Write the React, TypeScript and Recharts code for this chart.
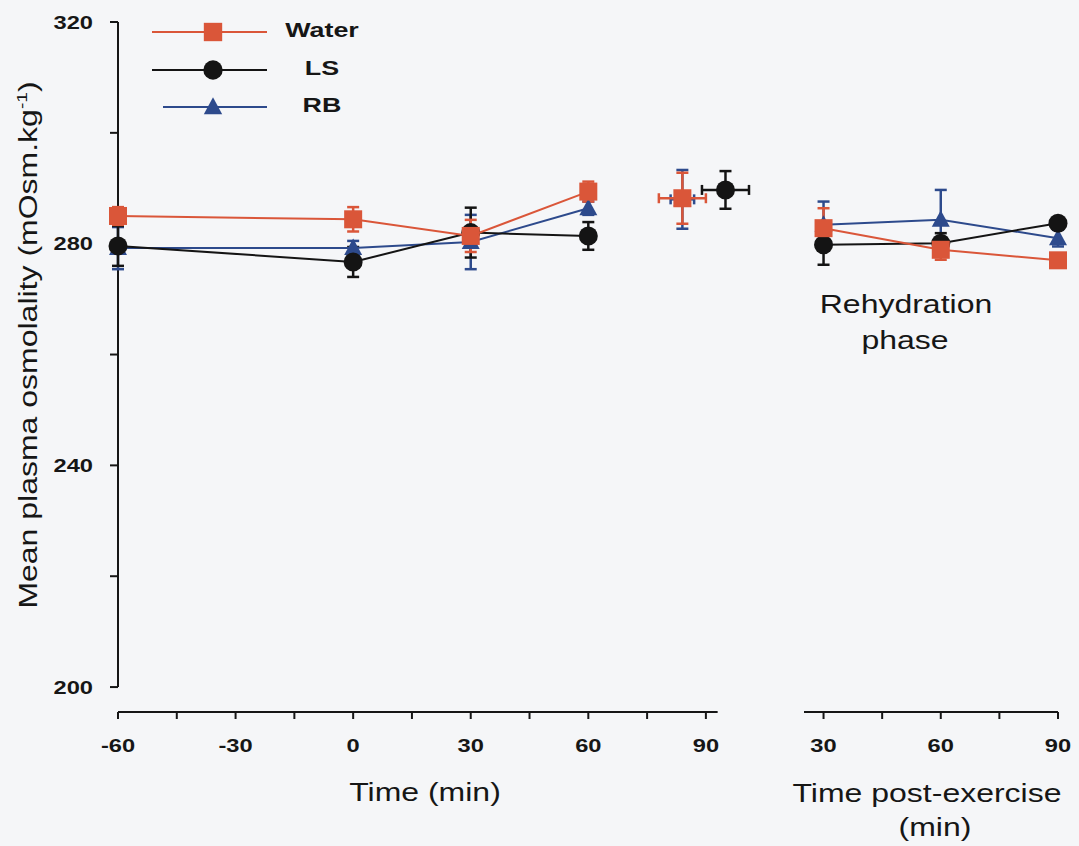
import React from 'react';
import { ComposedChart, Scatter, XAxis, YAxis, ErrorBar, ReferenceLine, Legend } from 'recharts';

// ---------- data ----------
const SERIES = ['Water', 'LS', 'RB'];

const PRE_TIMES = [-60, 0, 30, 60];
const WATER_PRE = [285.0, 284.4, 281.4, 289.4];
const WATER_PRE_SD = [1.6, 2.2, 2.9, 1.8];
const LS_PRE = [279.6, 276.7, 282.0, 281.4];
const LS_PRE_SD = [3.6, 2.7, 4.5, 2.5];
const RB_PRE = [279.2, 279.2, 280.3, 286.4];
const RB_PRE_SD = [3.8, 1.3, 4.9, 1.2];

// end-of-exercise point (order: Water, LS, RB)
const END_TIME = [84, 95, 84];
const END_TIME_SD = [6, 6, 3];
const END_VALUE = [288.2, 289.7, 288.0];
const END_VALUE_SD = [4.6, 3.4, 5.3];

const POST_TIMES = [30, 60, 90];
const WATER_POST = [282.8, 278.9, 277.0];
const WATER_POST_SD = [3.6, 1.8, 0.8];
const LS_POST = [279.8, 280.1, 283.7];
const LS_POST_SD = [3.6, 1.8, 1.0];
const RB_POST = [283.4, 284.3, 281.0];
const RB_POST_SD = [4.2, 5.4, 1.5];

const PRE_TICKS = [-60, -45, -30, -15, 0, 15, 30, 45, 60, 75, 90];
const POST_TICKS = [30, 45, 60, 75, 90];
const Y_TICKS = [200, 220, 240, 260, 280, 300, 320];

const PRE_VALUES = [WATER_PRE, LS_PRE, RB_PRE];
const PRE_SDS = [WATER_PRE_SD, LS_PRE_SD, RB_PRE_SD];
const POST_VALUES = [WATER_POST, LS_POST, RB_POST];
const POST_SDS = [WATER_POST_SD, LS_POST_SD, RB_POST_SD];

// ---------- styles ----------
const COLORS = ['#da5639', '#141414', '#2d4a8c'];
const SHAPES = ['square', 'circle', 'triangle'];
const DRAW_ORDER = [2, 1, 0];
const FONT = "'Liberation Sans', Arial, Helvetica, sans-serif";
const SX = 1.28;
const INK = '#161616';
const Y_DOMAIN = [195.5, 320];

const WideText = ({ x, y, size, bold = false, anchor = 'middle', rotate = 0, children }: any) => (
  <text
    transform={`translate(${x},${y}) rotate(${rotate}) scale(${SX},1)`}
    x={0}
    y={0}
    textAnchor={anchor}
    fontFamily={FONT}
    fontSize={size}
    fontWeight={bold ? 'bold' : 'normal'}
    fill={INK}
  >
    {children}
  </text>
);

const Marker = ({ cx, cy, kind, color, s = 1 }: any) => {
  if (cx == null || cy == null) return <g />;
  if (kind === 'square') {
    const h = 9 * s;
    return <rect x={cx - h} y={cy - h} width={2 * h} height={2 * h} fill={color} />;
  }
  if (kind === 'circle') {
    return <circle cx={cx} cy={cy} r={9.5 * s} fill={color} />;
  }
  const w = 9 * s;
  return (
    <polygon
      points={`${cx},${cy - 9.5 * s} ${cx - w},${cy + 7 * s} ${cx + w},${cy + 7 * s}`}
      fill={color}
    />
  );
};

const XTick = (props: any) => {
  const { x, y, payload } = props;
  const v = payload.value;
  if (v % 30 !== 0) return <g />;
  return (
    <WideText x={x} y={y + 30.5} size={18.5} bold>
      {String(v)}
    </WideText>
  );
};

const YTick = (props: any) => {
  const { x, y, payload } = props;
  const v = payload.value;
  if (v % 40 !== 0) return <g />;
  return (
    <WideText x={x} y={y + 6.5} size={18.5} bold anchor="end">
      {String(v)}
    </WideText>
  );
};

const YTitle = () => (
  <text
    transform={`translate(37,345) rotate(-90) scale(${SX},1)`}
    textAnchor="middle"
    fontFamily={FONT}
    fontSize={25}
    fill={INK}
  >
    Mean plasma osmolality (mOsm.kg
    <tspan fontSize={15} dy={-10}>-1</tspan>
    <tspan dy={10}>)</tspan>
  </text>
);

const XTitleLeft = () => (
  <WideText x={425} y={801} size={25}>
    Time (min)
  </WideText>
);

const XTitleRight = () => (
  <g>
    <WideText x={167} y={802} size={25}>
      Time post-exercise
    </WideText>
    <WideText x={175} y={836} size={25}>
      (min)
    </WideText>
  </g>
);

const LegendContent = () => {
  const rowsY = [32, 70, 107];
  const lineStart = [12, 12, 23];
  return (
    <svg width={240} height={125} style={{ display: 'block' }}>
      {SERIES.map((name, i) => (
        <g key={name}>
          <line x1={lineStart[i]} x2={127} y1={rowsY[i]} y2={rowsY[i]} stroke={COLORS[i]} strokeWidth={2} />
          <Marker cx={73} cy={rowsY[i]} kind={SHAPES[i]} color={COLORS[i]} s={1.02} />
          <WideText x={182} y={rowsY[i] + 5} size={21} bold>
            {name}
          </WideText>
        </g>
      ))}
    </svg>
  );
};

const preData = (i: number) =>
  PRE_TIMES.map((t, k) => ({ x: t, y: PRE_VALUES[i][k], ey: PRE_SDS[i][k] }));
const endData = (i: number) => [
  { x: END_TIME[i], y: END_VALUE[i], ey: END_VALUE_SD[i], ex: END_TIME_SD[i] },
];
const postData = (i: number) =>
  POST_TIMES.map((t, k) => ({ x: t, y: POST_VALUES[i][k], ey: POST_SDS[i][k] }));

export default function App() {
  return (
    <div
      style={{
        position: 'absolute',
        left: 0,
        top: 0,
        width: 1079,
        height: 846,
        background: '#f5f6f8',
        overflow: 'hidden',
      }}
    >
      <div style={{ position: 'absolute', left: 0, top: 0 }}>
        <ComposedChart width={760} height={846} margin={{ top: 22, right: 11, bottom: 34, left: 38 }}>
          <XAxis
            dataKey="x"
            type="number"
            domain={[-60, 101]}
            ticks={PRE_TICKS}
            interval={0}
            axisLine={false}
            tickLine={{ stroke: INK, strokeWidth: 2 }}
            tickSize={7}
            tickMargin={2}
            tick={<XTick />}
            height={100}
            label={<XTitleLeft />}
          />
          <YAxis
            dataKey="y"
            type="number"
            domain={Y_DOMAIN}
            ticks={Y_TICKS}
            interval={0}
            axisLine={false}
            tickLine={{ stroke: INK, strokeWidth: 2 }}
            tickSize={8}
            tickMargin={17}
            tick={<YTick />}
            width={80}
            label={<YTitle />}
          />
          <ReferenceLine
            segment={[{ x: -60, y: 200 }, { x: -60, y: 320 }]}
            stroke={INK}
            strokeWidth={2}
            ifOverflow="visible"
          />
          <ReferenceLine
            segment={[{ x: -60, y: Y_DOMAIN[0] }, { x: 93, y: Y_DOMAIN[0] }]}
            stroke={INK}
            strokeWidth={2}
            ifOverflow="visible"
          />
          <Legend
            layout="horizontal"
            verticalAlign="middle"
            align="center"
            content={<LegendContent />}
            wrapperStyle={{ position: 'absolute', left: 140, top: 0, width: 240, height: 125 }}
          />
          {DRAW_ORDER.map((i) => (
            <Scatter
              key={`pre-${i}`}
              name={SERIES[i]}
              data={preData(i)}
              fill={COLORS[i]}
              line={{ stroke: COLORS[i], strokeWidth: 2 }}
              lineType="joint"
              isAnimationActive={false}
              shape={(p: any) => <Marker cx={p.cx} cy={p.cy} kind={SHAPES[i]} color={COLORS[i]} />}
            >
              <ErrorBar dataKey="ey" direction="y" width={6} stroke={COLORS[i]} strokeWidth={2.5} />
            </Scatter>
          ))}
          {DRAW_ORDER.map((i) => (
            <Scatter
              key={`end-${i}`}
              name={`${SERIES[i]} end`}
              data={endData(i)}
              fill={COLORS[i]}
              legendType="none"
              isAnimationActive={false}
              shape={(p: any) => <Marker cx={p.cx} cy={p.cy} kind={SHAPES[i]} color={COLORS[i]} />}
            >
              <ErrorBar dataKey="ey" direction="y" width={6} stroke={COLORS[i]} strokeWidth={2.5} />
              <ErrorBar dataKey="ex" direction="x" width={5} stroke={COLORS[i]} strokeWidth={2.5} />
            </Scatter>
          ))}
        </ComposedChart>
      </div>

      <div style={{ position: 'absolute', left: 760, top: 0 }}>
        <ComposedChart width={319} height={846} margin={{ top: 22, right: 21, bottom: 34, left: 44 }}>
          <XAxis
            dataKey="x"
            type="number"
            domain={[25, 90]}
            ticks={POST_TICKS}
            interval={0}
            axisLine={{ stroke: INK, strokeWidth: 2 }}
            tickLine={{ stroke: INK, strokeWidth: 2 }}
            tickSize={7}
            tickMargin={2}
            tick={<XTick />}
            height={100}
            label={<XTitleRight />}
          />
          <YAxis dataKey="y" type="number" domain={Y_DOMAIN} hide />
          {DRAW_ORDER.map((i) => (
            <Scatter
              key={`post-${i}`}
              name={SERIES[i]}
              data={postData(i)}
              fill={COLORS[i]}
              line={{ stroke: COLORS[i], strokeWidth: 2 }}
              lineType="joint"
              isAnimationActive={false}
              shape={(p: any) => <Marker cx={p.cx} cy={p.cy} kind={SHAPES[i]} color={COLORS[i]} />}
            >
              <ErrorBar dataKey="ey" direction="y" width={6} stroke={COLORS[i]} strokeWidth={2.5} />
            </Scatter>
          ))}
        </ComposedChart>
      </div>

      <svg
        width={1079}
        height={846}
        style={{ position: 'absolute', left: 0, top: 0, pointerEvents: 'none' }}
      >
        <WideText x={906} y={313} size={25}>
          Rehydration
        </WideText>
        <WideText x={905} y={349} size={25}>
          phase
        </WideText>
      </svg>
    </div>
  );
}
